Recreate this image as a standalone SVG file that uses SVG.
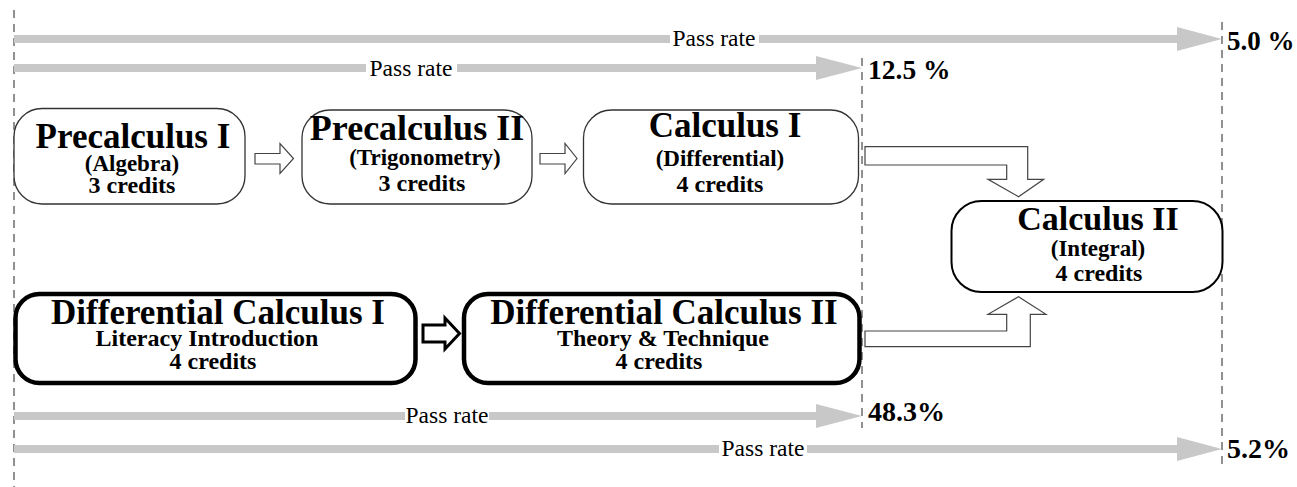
<svg xmlns="http://www.w3.org/2000/svg" width="1297" height="487" viewBox="0 0 1297 487">
<style>
text{font-family:"Liberation Serif","Times New Roman",serif;fill:#000}
.b{font-weight:bold}
.m{text-anchor:middle}
.sub{font-size:23px}
.cr{font-size:24px}
.box{fill:#fff;stroke:#333;stroke-width:1.3}
.boxb{fill:#fff;stroke:#000;stroke-width:4.5}
.dash{stroke:#222;stroke-width:1;stroke-dasharray:8 6;fill:none}
.gray{fill:#c8c8c8}
.wbg{fill:#fff}
.conn{fill:#fff;stroke:#444;stroke-width:1.2}
.connb{fill:#fff;stroke:#000;stroke-width:3}
</style>
<rect width="1297" height="487" fill="#fff"/>
<g id="guides">
<line class="dash" x1="14" y1="10" x2="14" y2="487"/>
<line class="dash" x1="862" y1="58" x2="862" y2="428"/>
<line class="dash" x1="1222" y1="22" x2="1222" y2="470"/>
</g>
<g id="passrate-arrows">
<g id="pr1">
<rect class="gray" x="14" y="35" width="1164" height="8"/>
<polygon class="gray" points="1177,27 1222,39 1177,51"/>
<rect class="wbg" x="670" y="30" width="89" height="18"/>
<text class="m" x="714" y="46" font-size="23.5">Pass rate</text>
<text class="b" x="1227" y="50" font-size="27">5.0 %</text>
</g>
<g id="pr2">
<rect class="gray" x="14" y="64" width="803" height="8"/>
<polygon class="gray" points="816,56 862,68 816,80"/>
<rect class="wbg" x="366" y="59" width="91" height="18"/>
<text class="m" x="411" y="76" font-size="23.5">Pass rate</text>
<text class="b" x="868" y="79" font-size="27.5">12.5 %</text>
</g>
<g id="pr3">
<rect class="gray" x="14" y="412" width="803" height="8"/>
<polygon class="gray" points="816,404 862,416 816,428"/>
<rect class="wbg" x="405" y="407" width="84" height="18"/>
<text class="m" x="447" y="423" font-size="23.5">Pass rate</text>
<text class="b" x="868" y="421" font-size="28">48.3%</text>
</g>
<g id="pr4">
<rect class="gray" x="14" y="445" width="1164" height="8"/>
<polygon class="gray" points="1177,437 1222,449 1177,461"/>
<rect class="wbg" x="719" y="440" width="88" height="18"/>
<text class="m" x="763" y="456" font-size="23.5">Pass rate</text>
<text class="b" x="1227" y="458" font-size="28">5.2%</text>
</g>
</g>
<g id="connectors">
<polygon class="conn" points="255,153.5 280,153.5 280,143.5 293.5,158.5 280,173.5 280,164 255,164"/>
<polygon class="conn" points="540,153.5 565,153.5 565,143.5 577,158.5 565,173.5 565,164 540,164"/>
<path class="conn" d="M865,146.7 H1027.7 V179.3 H1043.7 L1018.5,196.7 L988,179.3 H1006.7 V165 H865 Z"/>
<path class="conn" d="M865,331 H1006.7 V314.3 H988 L1018.5,296.7 L1046,314.3 H1030.3 V346.7 H865 Z"/>
<polygon class="connb" points="423,325 445,325 445,318 459.5,333.5 445,349 445,342 423,342"/>
</g>
<g id="precalc1">
<rect class="box" x="14" y="108.5" width="231" height="95.5" rx="28"/>
<text class="b m" x="133" y="148" font-size="35">Precalculus I</text>
<text class="b m sub" x="132" y="171">(Algebra)</text>
<text class="b m cr" x="132" y="193">3 credits</text>
</g>
<g id="precalc2">
<rect class="box" x="302" y="110" width="230" height="94" rx="28"/>
<text class="b m" x="417" y="140" font-size="36">Precalculus II</text>
<text class="b m sub" x="425" y="165">(Trigonometry)</text>
<text class="b m cr" x="422" y="191">3 credits</text>
</g>
<g id="calc1">
<rect class="box" x="583.5" y="110" width="275" height="94" rx="28"/>
<text class="b m" x="725" y="137" font-size="35">Calculus I</text>
<text class="b m sub" x="720" y="166">(Differential)</text>
<text class="b m cr" x="720" y="192">4 credits</text>
</g>
<g id="calc2">
<rect x="951.5" y="201" width="271" height="91" rx="30" fill="#fff" stroke="#000" stroke-width="2"/>
<text class="b m" x="1098" y="230" font-size="34">Calculus II</text>
<text class="b m sub" x="1098" y="256">(Integral)</text>
<text class="b m cr" x="1099" y="281">4 credits</text>
</g>
<g id="diffcalc1">
<rect class="boxb" x="15.5" y="294" width="400" height="89" rx="24"/>
<text class="b m" x="218" y="324" font-size="35">Differential Calculus I</text>
<text class="b m cr" x="207" y="346">Literacy Introduction</text>
<text class="b m cr" x="213" y="369">4 credits</text>
</g>
<g id="diffcalc2">
<rect class="boxb" x="464" y="294" width="395.5" height="89" rx="24"/>
<text class="b m" x="664" y="324" font-size="35">Differential Calculus II</text>
<text class="b m cr" x="663" y="346">Theory &amp; Technique</text>
<text class="b m cr" x="659" y="369">4 credits</text>
</g>
</svg>
